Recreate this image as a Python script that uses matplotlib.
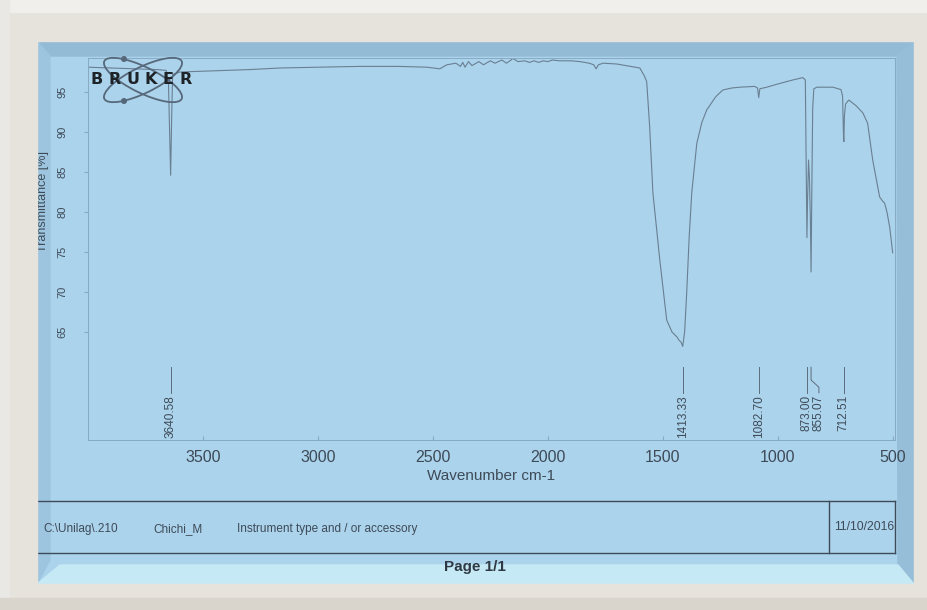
import matplotlib.pyplot as plt
from matplotlib.patches import Rectangle, Polygon, Ellipse, Circle

W, H = 928, 610

# FTIR spectrum, wavenumber (cm-1) vs transmittance (%)
wavenumber = [4000, 3900, 3800, 3700, 3660, 3650, 3645, 3640.58, 3636, 3632,
              3600, 3500, 3300, 3165, 3000, 2817, 2650, 2526, 2470, 2439,
              2400, 2380, 2370, 2360, 2345, 2330, 2300, 2280, 2250, 2230,
              2200, 2180, 2160, 2152, 2130, 2100, 2080, 2060, 2040, 2020,
              2000, 1980, 1950, 1900, 1860, 1820, 1800, 1790, 1780, 1760,
              1700, 1640, 1600, 1580, 1570, 1557, 1543, 1513, 1483, 1460,
              1439, 1430, 1420, 1413.33, 1405, 1396, 1385, 1374, 1352, 1330,
              1309, 1270, 1239, 1200, 1165, 1100, 1088, 1082.7, 1078, 1048,
              1000, 935, 891, 880, 876, 873, 870, 866, 862, 858,
              855.07, 852, 848, 843, 830, 760, 725, 718, 714, 712.51,
              710, 705, 691, 660, 630, 609, 587, 557, 545, 535,
              525, 513, 500]
transmittance = [98.1, 98.0, 97.9, 97.8, 97.7, 96.0, 90.0, 84.6, 92.0, 97.2,
                 97.5, 97.6, 97.8, 98.0, 98.1, 98.2, 98.2, 98.1, 97.9, 98.4,
                 98.6, 98.2, 98.7, 98.1, 98.8, 98.3, 98.8, 98.4, 98.9, 98.6,
                 99.0, 98.6, 99.0, 99.2, 98.8, 98.9, 98.7, 98.9, 98.7, 98.9,
                 98.8, 99.0, 98.9, 98.9, 98.8, 98.6, 98.4, 97.9, 98.4, 98.6,
                 98.5, 98.2, 98.0, 97.0, 96.3, 90.6, 82.4, 74.0, 66.5, 65.0,
                 64.4, 64.0, 63.7, 63.2, 65.0, 69.9, 77.0, 82.4, 88.6, 91.2,
                 92.75, 94.4, 95.25, 95.5, 95.6, 95.7, 95.5, 94.3, 95.4, 95.6,
                 96.0, 96.5, 96.8, 96.5, 85.0, 76.8, 82.0, 86.5, 84.0, 79.0,
                 72.5, 82.0, 93.0, 95.4, 95.6, 95.6, 95.3, 94.5, 89.5, 88.8,
                 92.0, 93.5, 94.0, 93.3, 92.4, 91.1, 86.5, 81.9, 81.4, 81.1,
                 80.0, 78.1, 74.9]

peak_wn = [3640.58, 1413.33, 1082.70, 873.00, 855.07, 712.51]
peak_text_wn = [3640.58, 1413.33, 1082.70, 873.00, 821.0, 712.51]

xticks = [3500, 3000, 2500, 2000, 1500, 1000, 500]
yticks = [65, 70, 75, 80, 85, 90, 95]

footer_items = ["C:\\Unilag\\.210", "Chichi_M", "Instrument type and / or accessory"]
footer_x = [43, 153, 237]
date_text = "11/10/2016"

plt.rcParams['font.family'] = ['Liberation Sans', 'DejaVu Sans']

ink = '#3e4a57'
faint = '#86aac4'

fig = plt.figure(figsize=(W / 100, H / 100), dpi=100, facecolor='#dedbd4')


def pixel_axes(z):
    a = fig.add_axes([0, 0, 1, 1], zorder=z)
    a.set_xlim(0, W)
    a.set_ylim(H, 0)
    a.axis('off')
    a.patch.set_alpha(0)
    return a


# blue panel with bevelled edges
back = pixel_axes(0)
back.add_patch(Rectangle((37, 41), 877, 543, color='#abd3ec'))
back.add_patch(Polygon([(37, 41), (914, 41), (897, 56), (50, 56)], color='#94bbd6'))
back.add_patch(Polygon([(37, 41), (50, 56), (50, 560), (37, 584)], color='#9dc5df'))
back.add_patch(Polygon([(914, 41), (914, 584), (898, 565), (897, 56)], color='#96bed9'))
back.add_patch(Polygon([(37, 584), (914, 584), (898, 565), (60, 565)], color='#c6e9f6'))

# footer table
back.plot([37, 895], [501, 501], color=ink, lw=1)
back.plot([37, 895], [553, 553], color=ink, lw=1)
back.plot([829, 829], [501, 553], color=ink, lw=1)
back.plot([895, 895], [501, 553], color=ink, lw=1)
for txt, x in zip(footer_items, footer_x):
    back.text(x, 529, txt, fontsize=8.5, color=ink, ha='left', va='center')
back.text(834, 527, date_text, fontsize=8.8, color=ink, ha='left', va='center')
back.text(475, 567, "Page 1/1", fontsize=11, fontweight='bold', color='#2f3943',
          ha='center', va='center')

back.text(43, 201, "Transmittance [%]", fontsize=9, color=ink, rotation=90,
          ha='center', va='center')

# spectrum
ax = fig.add_axes([88 / W, 1 - 440 / H, (895 - 88) / W, (440 - 58) / H], zorder=1)
ax.patch.set_alpha(0)
ax.plot(wavenumber, transmittance, color='#6a7f91', lw=0.8)
ax.set_xlim(4000, 490)
ax.set_ylim(51.5, 99.25)
for s in ax.spines.values():
    s.set_color(faint)
    s.set_linewidth(0.7)
ax.set_xticks(xticks)
ax.set_yticks(yticks)
ax.tick_params(axis='x', direction='in', length=3, color=faint, labelsize=11.5,
               labelcolor=ink, pad=7)
ax.tick_params(axis='y', direction='out', length=3, color=faint, labelsize=8,
               labelcolor=ink, pad=12)
plt.setp(ax.get_yticklabels(), rotation=90, va='center')
ax.set_xlabel('Wavenumber cm-1', fontsize=11, color=ink, labelpad=3)

for wn, twn in zip(peak_wn, peak_text_wn):
    ax.plot([wn, wn, twn, twn], [60.6, 59.0, 58.1, 57.4], color='#5d6c7a', lw=0.7)
    ax.text(twn, 57.1, f'{wn:.2f}', rotation=90, ha='center', va='top',
            fontsize=8.5, color=ink)

# Bruker logo
logo = pixel_axes(5)
for ang in (26, -26):
    logo.add_patch(Ellipse((143, 80), 86, 26, angle=ang, fill=False,
                           edgecolor='#56687a', lw=1.3))
for cy in (59, 101):
    logo.add_patch(Circle((124, cy), 2.3, color='#56687a'))
for i, ch in enumerate("BRUKER"):
    logo.text(97 + 17.8 * i, 80, ch, fontsize=11.5, fontweight='bold',
              family='DejaVu Sans', color='#1d2227', ha='center', va='center')

# outer mount around the panel
front = pixel_axes(20)
frame = '#e6e3dc'
front.add_patch(Rectangle((0, 0), 37, H, color=frame))
front.add_patch(Rectangle((914, 0), W - 914, H, color=frame))
front.add_patch(Rectangle((0, 0), W, 41, color=frame))
front.add_patch(Rectangle((0, 584), W, H - 584, color=frame))
front.add_patch(Rectangle((0, 0), W, 12, color='#f0efec'))
front.add_patch(Rectangle((0, 0), 9, H, color='#e9e8e5'))
front.add_patch(Rectangle((0, 598), W, 12, color='#d9d5cd'))

fig.savefig('out.png', dpi=100, facecolor=fig.get_facecolor())
